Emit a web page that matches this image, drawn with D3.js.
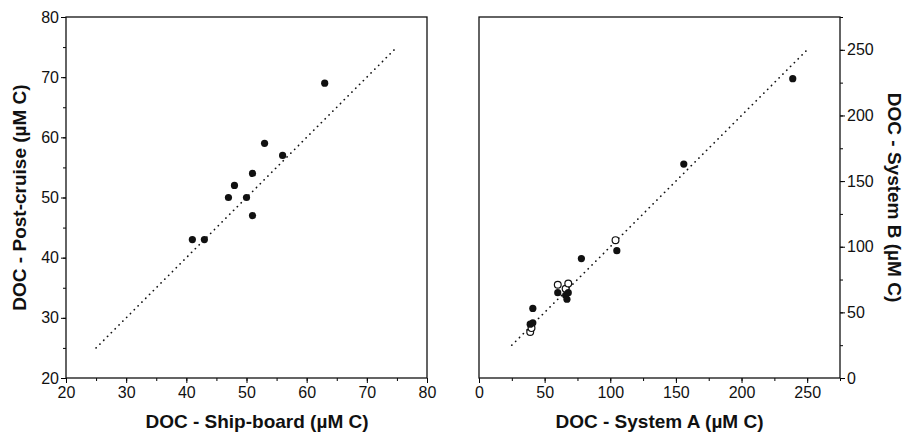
<!DOCTYPE html>
<html>
<head>
<meta charset="utf-8">
<script src="https://cdn.jsdelivr.net/npm/d3@7"></script>
<style>
body { margin:0; background:#fff; }
svg text { font-family: "Liberation Sans", Arial, sans-serif; fill:#111; }
</style>
</head>
<body>
<div id="d3area"></div>
<script>
// left panel: ship-board vs post-cruise
var shipBoard  = [41, 43, 47, 48, 50, 51, 51, 53, 56, 63];
var postCruise = [43, 43, 50, 52, 50, 54, 47, 59, 57, 69];

// right panel: system A vs system B (filled and open symbols)
var sysAFilled = [39, 41, 41, 60, 66, 67, 68, 78, 105, 156, 239];
var sysBFilled = [41, 42, 53, 65, 63, 60, 65, 91, 97, 163, 228];
var sysAOpen   = [39, 40, 60, 66, 68, 104];
var sysBOpen   = [35, 38, 71, 68, 72, 105];

var leftTicks  = [20, 30, 40, 50, 60, 70, 80];
var rightTicks = [0, 50, 100, 150, 200, 250];
var leftLine   = [25, 75];
var rightLine  = [25, 250];

var svgSize = {w:906, h:432};

var svg = d3.select("#d3area").append("svg")
	.attr("width", svgSize.w)
	.attr("height", svgSize.h);

var plotTop = 17, plotBottom = 378;

function minorTicks(lo, hi, step) {
	return d3.range(lo, hi + 0.001, step);
}

// ---------- left panel ----------
var xL = d3.scaleLinear().domain([20, 80]).range([66, 427]);
var yL = d3.scaleLinear().domain([20, 80]).range([plotBottom, plotTop]);

var gL = svg.append("g");

gL.append("g")
	.attr("transform", "translate(0," + plotBottom + ")")
	.call(d3.axisBottom(xL).tickValues(minorTicks(20, 80, 5)).tickSize(3).tickFormat(""));
gL.append("g")
	.attr("transform", "translate(0," + plotBottom + ")")
	.call(d3.axisBottom(xL).tickValues(leftTicks).tickSize(5).tickPadding(4).tickFormat(d3.format("d")));
gL.append("g")
	.attr("transform", "translate(66,0)")
	.call(d3.axisLeft(yL).tickValues(minorTicks(20, 80, 5)).tickSize(3).tickFormat(""));
gL.append("g")
	.attr("transform", "translate(66,0)")
	.call(d3.axisLeft(yL).tickValues(leftTicks).tickSize(5).tickPadding(2).tickFormat(d3.format("d")));

gL.append("rect")
	.attr("x", 66).attr("y", plotTop)
	.attr("width", 427 - 66).attr("height", plotBottom - plotTop)
	.style("fill", "none").style("stroke", "#111").style("stroke-width", 1.3);

gL.append("line")
	.attr("x1", xL(leftLine[0])).attr("y1", yL(leftLine[0]))
	.attr("x2", xL(leftLine[1])).attr("y2", yL(leftLine[1]))
	.style("stroke", "#111").style("stroke-width", 1.7)
	.style("stroke-dasharray", "0.1,5.3").style("stroke-linecap", "round");

gL.selectAll("circle.pt").data(shipBoard).enter().append("circle")
	.attr("cx", function(d){ return xL(d); })
	.attr("cy", function(d, i){ return yL(postCruise[i]); })
	.attr("r", 3.6)
	.style("fill", "#111");

gL.append("text")
	.attr("x", 257).attr("y", 428)
	.attr("text-anchor", "middle")
	.style("font-size", "19px").style("font-weight", "bold")
	.text("DOC - Ship-board (µM C)");

gL.append("text")
	.attr("transform", "translate(26," + ((plotTop + plotBottom) / 2) + ") rotate(-90)")
	.attr("text-anchor", "middle")
	.style("font-size", "19px").style("font-weight", "bold")
	.text("DOC - Post-cruise (µM C)");

// ---------- right panel ----------
var xR = d3.scaleLinear().domain([0, 275]).range([479, 840]);
var yR = d3.scaleLinear().domain([0, 275]).range([plotBottom, plotTop]);

var gR = svg.append("g");

gR.append("g")
	.attr("transform", "translate(0," + plotBottom + ")")
	.call(d3.axisBottom(xR).tickValues(minorTicks(0, 275, 25)).tickSize(3).tickFormat(""));
gR.append("g")
	.attr("transform", "translate(0," + plotBottom + ")")
	.call(d3.axisBottom(xR).tickValues(rightTicks).tickSize(5).tickPadding(4).tickFormat(d3.format("d")));
gR.append("g")
	.attr("transform", "translate(840,0)")
	.call(d3.axisRight(yR).tickValues(minorTicks(0, 275, 25)).tickSize(3).tickFormat(""));
gR.append("g")
	.attr("transform", "translate(840,0)")
	.call(d3.axisRight(yR).tickValues(rightTicks).tickSize(5).tickPadding(2).tickFormat(d3.format("d")));

gR.append("rect")
	.attr("x", 479).attr("y", plotTop)
	.attr("width", 840 - 479).attr("height", plotBottom - plotTop)
	.style("fill", "none").style("stroke", "#111").style("stroke-width", 1.3);

gR.append("line")
	.attr("x1", xR(rightLine[0])).attr("y1", yR(rightLine[0]))
	.attr("x2", xR(rightLine[1])).attr("y2", yR(rightLine[1]))
	.style("stroke", "#111").style("stroke-width", 1.7)
	.style("stroke-dasharray", "0.1,5.3").style("stroke-linecap", "round");

gR.selectAll("circle.open").data(sysAOpen).enter().append("circle")
	.attr("cx", function(d){ return xR(d); })
	.attr("cy", function(d, i){ return yR(sysBOpen[i]); })
	.attr("r", 3.4)
	.style("fill", "#fff").style("stroke", "#111").style("stroke-width", 1.2);

gR.selectAll("circle.filled").data(sysAFilled).enter().append("circle")
	.attr("cx", function(d){ return xR(d); })
	.attr("cy", function(d, i){ return yR(sysBFilled[i]); })
	.attr("r", 3.6)
	.style("fill", "#111");

gR.append("text")
	.attr("x", 659.5).attr("y", 428)
	.attr("text-anchor", "middle")
	.style("font-size", "19px").style("font-weight", "bold")
	.text("DOC - System A (µM C)");

gR.append("text")
	.attr("transform", "translate(888," + ((plotTop + plotBottom) / 2) + ") rotate(90)")
	.attr("text-anchor", "middle")
	.style("font-size", "19px").style("font-weight", "bold")
	.text("DOC - System B (µM C)");

svg.selectAll(".tick text").style("font-size", "16px");
svg.selectAll(".domain").remove();
</script>
</body>
</html>
